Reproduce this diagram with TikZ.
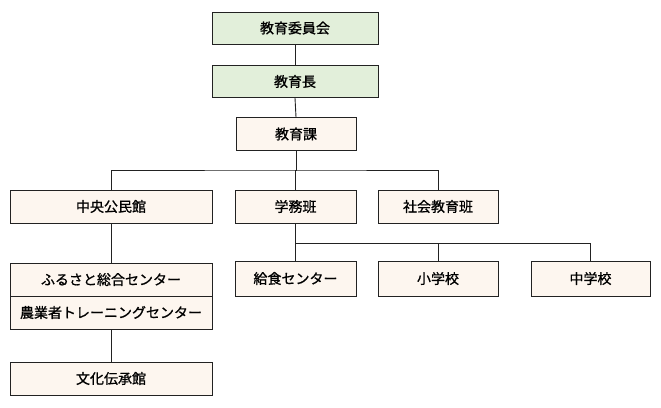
\documentclass[tikz,border=0pt]{standalone}
\usepackage{fontspec}
\newfontfamily\jp{Noto Sans CJK JP}[FakeBold=1.0]
\definecolor{gfill}{HTML}{E2EFDA}
\definecolor{bfill}{HTML}{FDF6EF}
\definecolor{lc}{HTML}{222222}
\begin{document}
\begin{tikzpicture}[x=1pt,y=-1pt,
  box/.style={draw=lc,line width=0.9pt,rectangle,inner sep=0pt,font=\jp\fontsize{14}{16}\selectfont},
  gbox/.style={box,fill=gfill},
  bbox/.style={box,fill=bfill},
  ln/.style={draw=lc,line width=0.9pt}]
\useasboundingbox (0,0) rectangle (661,407);
\node[gbox,minimum width=166pt,minimum height=32pt] (iin) at (295,28) {教育委員会};
\node[gbox,minimum width=166pt,minimum height=32pt] (cho) at (295,81.5) {教育長};
\node[bbox,minimum width=120pt,minimum height=33pt] (ka) at (296,134) {教育課};
\node[bbox,minimum width=202pt,minimum height=33pt] (chuo) at (111,206.5) {中央公民館};
\node[bbox,minimum width=121pt,minimum height=33pt] (gaku) at (295.5,206.5) {学務班};
\node[bbox,minimum width=120pt,minimum height=33pt] (shakai) at (438,206.5) {社会教育班};
\node[bbox,minimum width=121pt,minimum height=35pt] (kyu) at (295.5,278.5) {給食センター};
\node[bbox,minimum width=120pt,minimum height=35pt] (sho) at (438,278.5) {小学校};
\node[bbox,minimum width=119pt,minimum height=35pt] (chu) at (590.5,278.5) {中学校};
\node[bbox,minimum width=202pt,minimum height=33pt] (furu) at (111,279.5) {ふるさと総合センター};
\node[bbox,minimum width=202pt,minimum height=33pt] (nogyo) at (111,312.5) {農業者トレーニングセンター};
\node[bbox,minimum width=202pt,minimum height=33pt] (bunka) at (111,378.5) {文化伝承館};
\coordinate (j1) at (296,170);
\coordinate (j2) at (295.5,243);
\draw[ln] (iin.south) -- (cho.north);
\draw[ln] (cho.south) -- (ka.north);
\draw[ln] (ka.south) -- (j1);
\draw[ln] (chuo.north) |- (j1) -| (shakai.north);
\draw[ln] (j1) -| (gaku.north);
\draw[ln] (chuo.south) -- (furu.north);
\draw[ln] (nogyo.south) -- (bunka.north);
\draw[ln] (gaku.south) -- (kyu.north);
\draw[ln] (j2) -| (sho.north);
\draw[ln] (j2) -| (chu.north);
\end{tikzpicture}
\end{document}
